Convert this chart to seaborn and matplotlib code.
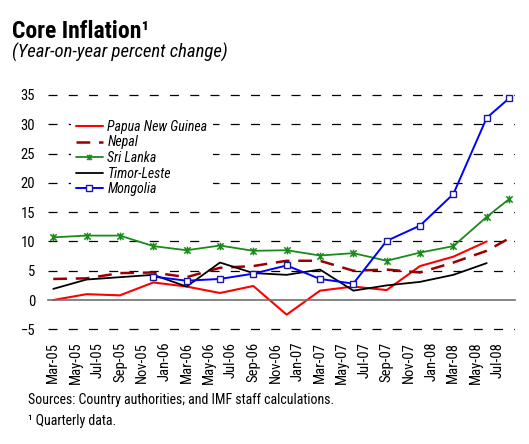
import numpy as np
import pandas as pd
import matplotlib
matplotlib.use('Agg')
import matplotlib.pyplot as plt
from matplotlib.path import Path
from matplotlib import font_manager as fm
import seaborn as sns

# quarterly observations (last one is Aug-08)
periods = ['Mar-05', 'Jun-05', 'Sep-05', 'Dec-05', 'Mar-06', 'Jun-06', 'Sep-06', 'Dec-06',
           'Mar-07', 'Jun-07', 'Sep-07', 'Dec-07', 'Mar-08', 'Jun-08', 'Aug-08']

png_vals = [0.0, 1.0, 0.8, 3.0, 2.3, 1.2, 2.4, -2.5, 1.6, 2.3, 1.7, 5.8, 7.4, 10.0, np.nan]
nepal_vals = [3.6, 3.7, 4.6, 4.7, 3.9, 5.5, 5.8, 6.7, 6.7, 5.0, 5.2, 4.7, 6.4, 8.4, 10.5]
srilanka_vals = [10.7, 11.0, 11.0, 9.2, 8.5, 9.3, 8.4, 8.5, 7.6, 8.0, 6.7, 8.1, 9.2, 14.2, 17.2]
timor_vals = [1.9, 3.5, 3.9, 4.3, 2.3, 6.4, 4.6, 4.3, 5.2, 1.6, 2.5, 3.1, 4.3, 6.3, np.nan]
mongolia_vals = [np.nan, np.nan, np.nan, 4.0, 3.3, 3.6, 4.5, 5.9, 3.6, 2.8, 10.1, 12.7, 18.1, 31.1, 34.4]

tick_labels = ['Mar-05', 'May-05', 'Jul-05', 'Sep-05', 'Nov-05', 'Jan-06', 'Mar-06', 'May-06',
               'Jul-06', 'Sep-06', 'Nov-06', 'Jan-07', 'Mar-07', 'May-07', 'Jul-07', 'Sep-07',
               'Nov-07', 'Jan-08', 'Mar-08', 'May-08', 'Jul-08']

series = ['Papua New Guinea', 'Nepal', 'Sri Lanka', 'Timor-Leste', 'Mongolia']
values = [png_vals, nepal_vals, srilanka_vals, timor_vals, mongolia_vals]

start = pd.to_datetime('Mar-05', format='%b-%y')


def month_index(labels):
    d = pd.to_datetime(pd.Series(labels), format='%b-%y')
    return ((d.dt.year - start.year) * 12 + (d.dt.month - start.month)).to_numpy()


x_obs = month_index(periods)
x_ticks = month_index(tick_labels)

df = pd.DataFrame({'month': np.tile(x_obs, len(series)),
                   'country': np.repeat(series, len(periods)),
                   'value': np.concatenate(values)}).dropna()

sns.set_style('white')
# a condensed face if there is one, close to the original Univers Condensed
have = set(f.name for f in fm.fontManager.ttflist)
fam = [f for f in ['Roboto Condensed', 'Archivo Narrow', 'Liberation Sans Narrow',
                   'Barlow Condensed', 'Liberation Sans'] if f in have] + ['DejaVu Sans']
plt.rcParams['font.family'] = fam
plt.rcParams['text.color'] = 'black'
plt.rcParams['xtick.color'] = 'black'
plt.rcParams['ytick.color'] = 'black'

# Excel-like star marker: x with a vertical bar
star = Path([(-1, -1), (1, 1), (-1, 1), (1, -1), (0, -1.2), (0, 1.2)],
            [Path.MOVETO, Path.LINETO, Path.MOVETO, Path.LINETO, Path.MOVETO, Path.LINETO])

styles = {
    'Papua New Guinea': dict(color='#ff0000', lw=1.5),
    'Nepal': dict(color='#990000', lw=1.8, dashes=(5.5, 3.5)),
    'Sri Lanka': dict(color='#1a8a1a', lw=1.3, marker=star, markersize=5.5, mew=1.1,
                      mec='#1a8a1a'),
    'Timor-Leste': dict(color='black', lw=1.3),
    'Mongolia': dict(color='#0000ff', lw=1.4, marker='s', markersize=5, mfc='white',
                     mec='#1a1a99', mew=1.0),
}

fig = plt.figure(figsize=(5.29, 4.44), dpi=100)
ax = fig.add_axes([47.7 / 529, 1 - 330.5 / 444, 466.8 / 529, 236.7 / 444])

for name in series:
    sub = df[df['country'] == name]
    st = dict(styles[name])
    dashes = st.pop('dashes', None)
    sns.lineplot(data=sub, x='month', y='value', ax=ax, label=name, **st)
    if dashes is not None:
        ax.lines[-1].set_dashes(dashes)

ax.set_xlim(-0.5, x_obs.max() + 0.5)
ax.set_ylim(-5.2, 35.2)
ax.set_xlabel('')
ax.set_ylabel('')

for v in range(-5, 36, 5):
    if v != 0:
        ax.axhline(v, color='black', lw=0.9, ls=(0, (7.2, 9.0)), zorder=0)

for s in ['top', 'right', 'left']:
    ax.spines[s].set_visible(False)
ax.spines['bottom'].set_position(('data', 0))
ax.spines['bottom'].set_color('#707070')
ax.spines['bottom'].set_linewidth(1.2)

ax.set_yticks(range(-5, 36, 5))
ax.tick_params(axis='y', length=0, pad=9, labelsize=10.5)
ax.set_xticks(x_ticks)
ax.set_xticklabels(tick_labels, rotation=90, va='top', ha='center')
ax.set_xticks(np.arange(-0.5, x_obs.max() + 1, 2), minor=True)
ax.tick_params(axis='x', which='major', length=0, pad=30, labelsize=10.5)
ax.tick_params(axis='x', which='minor', direction='out', length=3.8, width=1.1, color='#707070')

leg = ax.legend(loc='upper left', bbox_to_anchor=(0.049, 0.913), frameon=True,
                facecolor='white', edgecolor='none', framealpha=1, fancybox=False,
                handlelength=1.9, handletextpad=0.35, labelspacing=0.11, borderpad=0.4,
                borderaxespad=0, markerscale=0.75,
                prop={'family': fam, 'style': 'italic', 'size': 10})
leg.set_zorder(5)

fig.text(12 / 529, 1 - 38 / 444, 'Core Inflation¹', fontsize=17, fontweight='bold',
         va='baseline', ha='left')
fig.text(12 / 529, 1 - 58 / 444, '(Year-on-year percent change)', fontsize=13.5,
         fontstyle='italic', va='baseline', ha='left')
fig.text(28 / 529, 1 - 403.5 / 444, 'Sources: Country authorities; and IMF staff calculations.',
         fontsize=10, va='baseline', ha='left')
fig.text(28 / 529, 1 - 424.5 / 444, '¹ Quarterly data.', fontsize=10, va='baseline', ha='left')

fig.savefig('out.png', dpi=100)
